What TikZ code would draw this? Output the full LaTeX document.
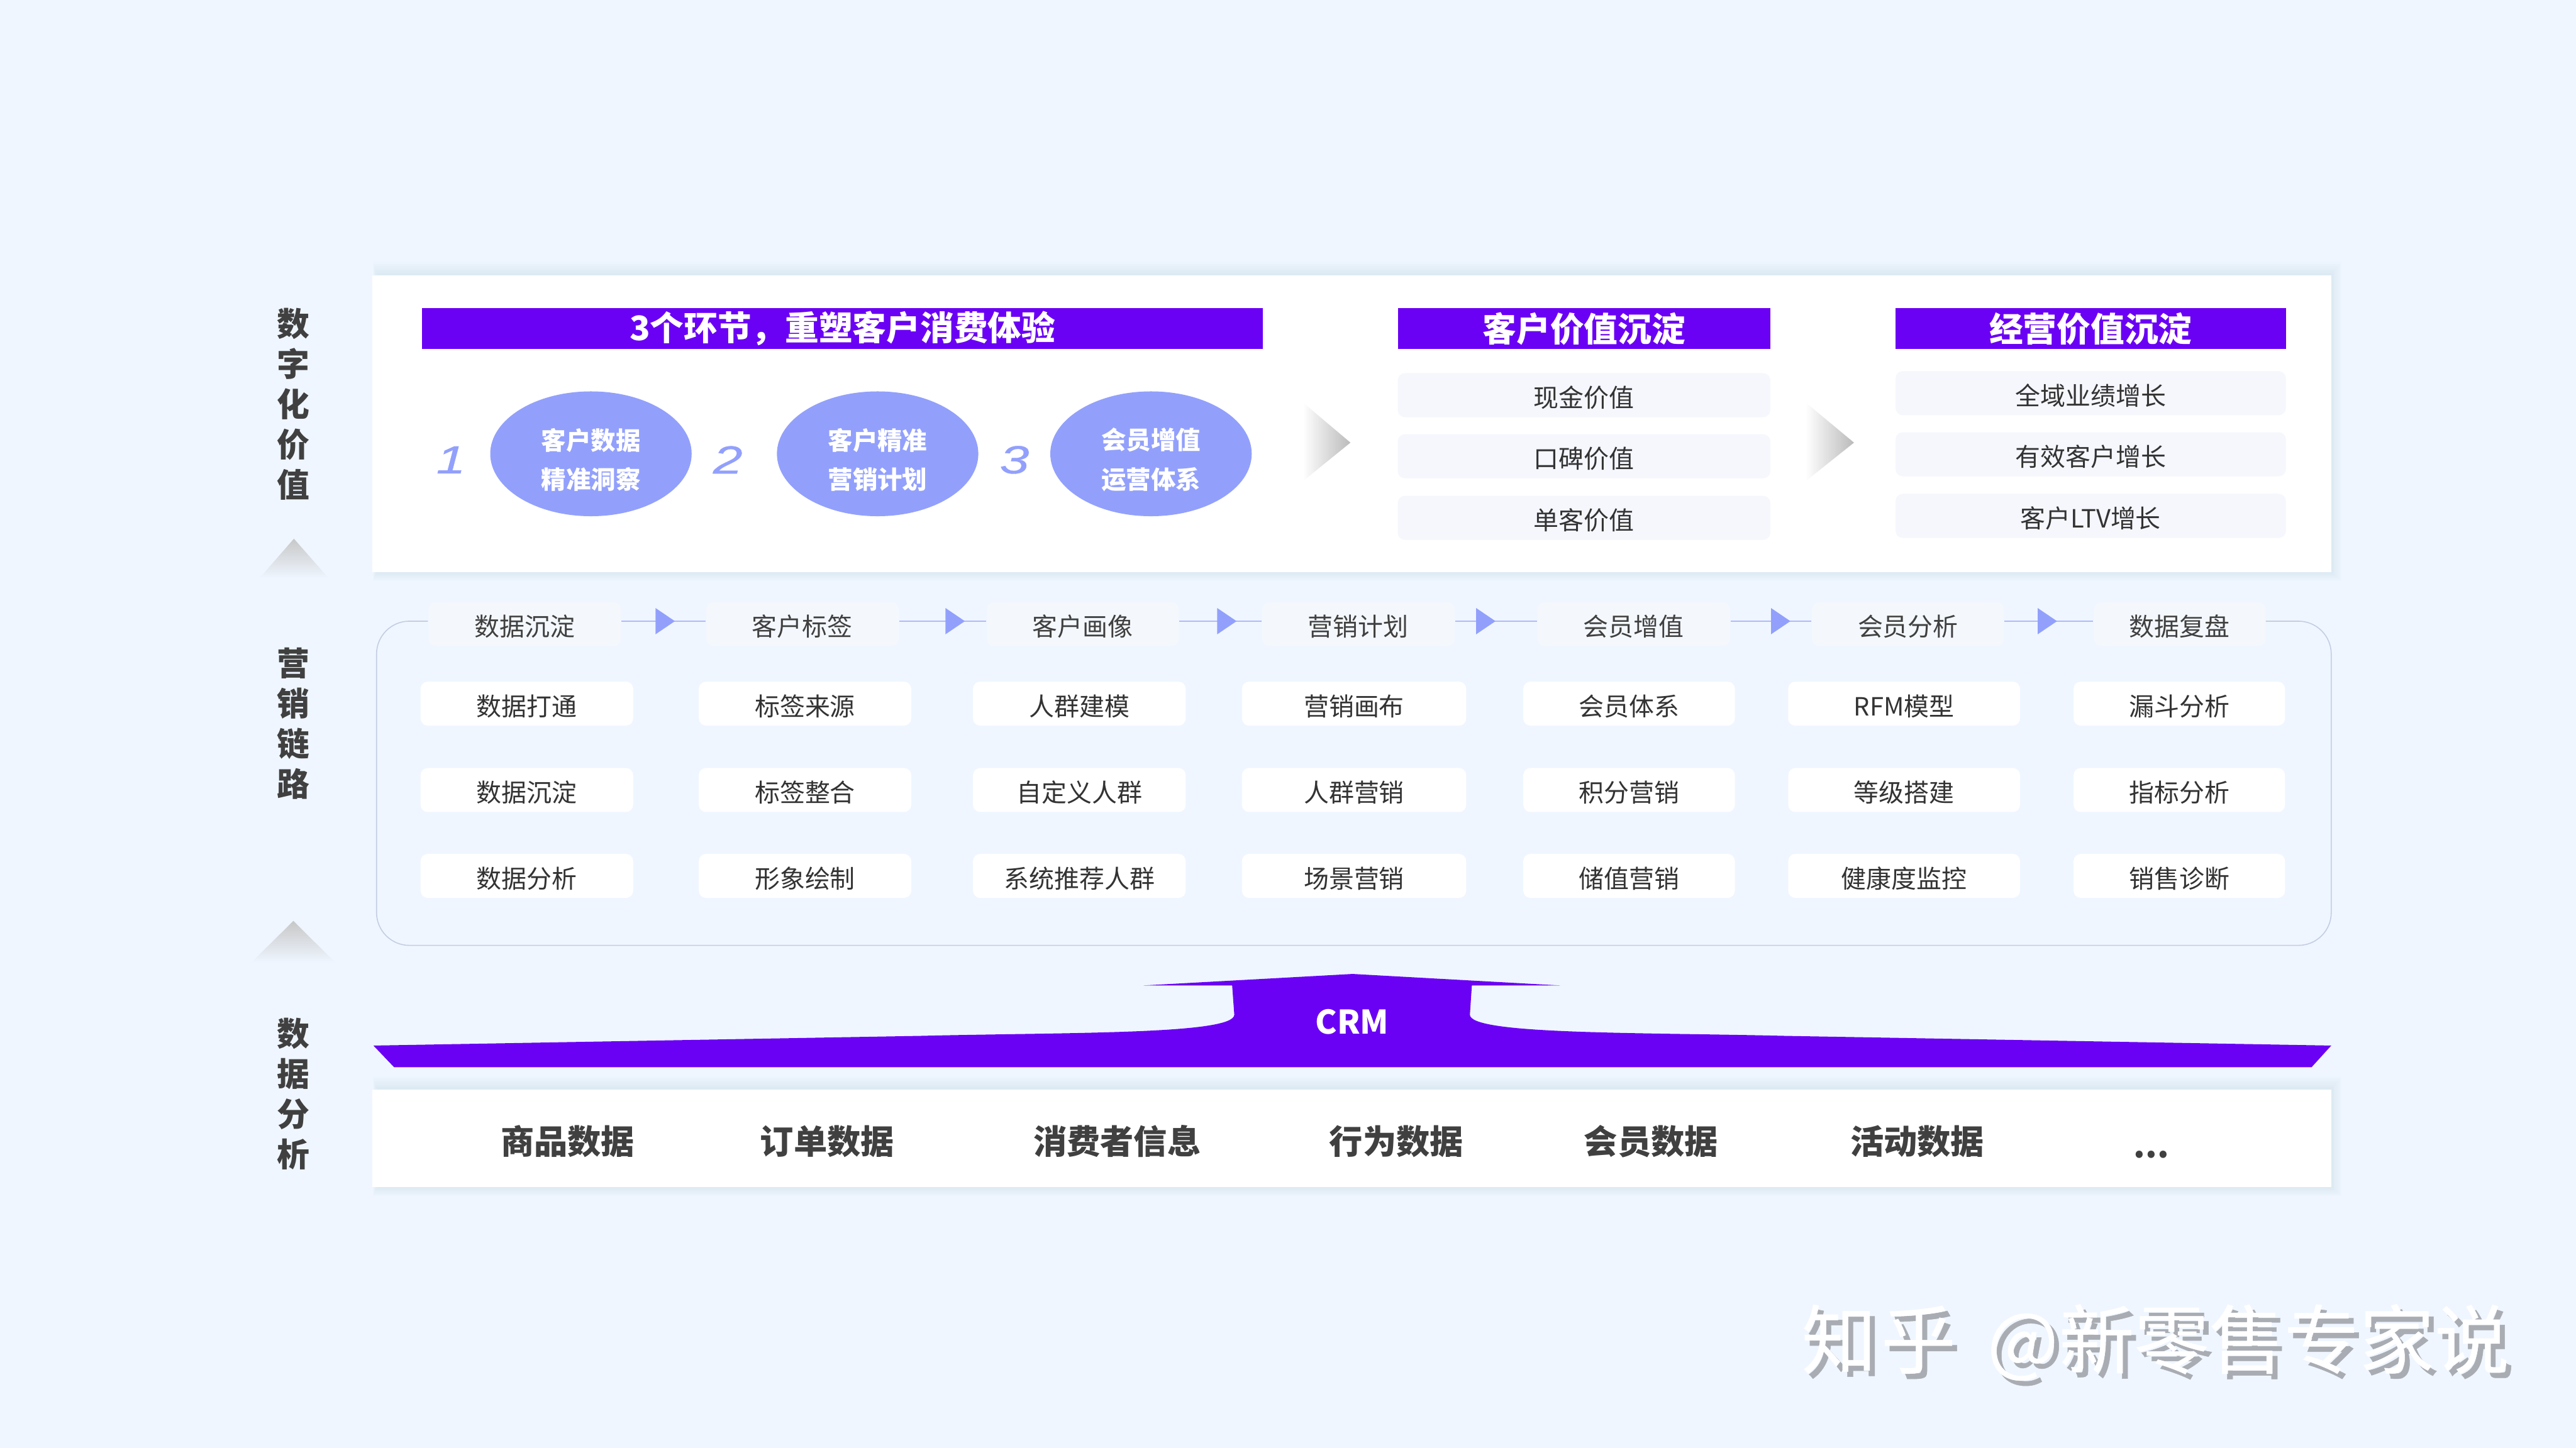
\documentclass[tikz,border=0pt]{standalone}
\usepackage{fontspec}
\usepackage{tikz}
\usetikzlibrary{shapes.geometric}
\setmainfont{Noto Sans CJK SC}
\newfontfamily\numfont[FakeStretch=1.35,FakeBold=0.6]{Liberation Sans}
\newfontfamily\markfont[FakeBold=0.4]{Noto Sans CJK SC}
\definecolor{MyBack}{RGB}{239,246,255}
\definecolor{MyPurple}{RGB}{106,0,244}
\definecolor{MyBlue}{RGB}{146,160,252}
\definecolor{MyPale}{RGB}{245,247,253}
\definecolor{MyTop}{RGB}{244,248,253}
\definecolor{MyFrame}{RGB}{196,206,226}
\definecolor{MyInk}{RGB}{51,51,51}
\definecolor{MyInkB}{RGB}{64,64,64}
\definecolor{MyShadow}{RGB}{90,120,170}
\definecolor{MyMark}{RGB}{169,173,179}
\def\px{0.02cm}
\newcommand{\ovaltext}[2]{\rule{0pt}{11.6pt}#1\\#2}
\tikzset{
    headbar/.style={
      rectangle,
      fill=MyPurple,
      text=white,
      inner sep=0pt,
      minimum height=24.9*\px,
      font=\fontsize{11.7}{13}\selectfont\bfseries
    },
    stepoval/.style={
      ellipse,
      fill=MyBlue,
      text=white,
      inner sep=0pt,
      minimum width=122.6*\px,
      minimum height=76*\px,
      align=center,
      font=\fontsize{8.6}{13.6}\selectfont\bfseries
    },
    stepnum/.style={
      text=MyBlue,
      inner sep=0pt,
      font=\fontsize{13.6}{14}\selectfont\numfont\itshape
    },
    valbox/.style={
      rectangle,
      rounded corners=2.5pt,
      fill=MyPale,
      text=MyInk,
      inner sep=0pt,
      minimum height=26.8*\px,
      text height=9.4pt,
      text depth=1pt,
      font=\fontsize{8.7}{10}\selectfont
    },
    cellbox/.style={valbox,fill=white},
    topbox/.style={valbox,fill=MyTop,text=MyInkB},
    sidelabel/.style={
      text=MyInkB,
      inner sep=0pt,
      align=center,
      font=\fontsize{11.3}{13.93}\selectfont\bfseries
    },
    datatext/.style={
      text=MyInkB,
      inner sep=0pt,
      font=\fontsize{11.6}{13}\selectfont\bfseries
    },
    markname/.style={
      inner sep=0pt,
      font=\fontsize{26}{30}\selectfont\markfont
    },
    flowline/.style={draw=MyBlue!70!MyBack,line width=0.35pt},
    frameline/.style={draw=MyFrame,line width=0.35pt,rounded corners=20*\px},
    fadetip/.style={left color=white,middle color=black!5,right color=black!27},
}
% soft shadow behind a white panel
\newcommand{\panelshadow}[4]{
  \foreach \t in {0.15,0.3,...,1.0} {
    \fill[MyShadow,opacity=0.014] (#1+3-\t*3,#2-\t*9) rectangle (#3+\t*7,#4+\t*6);
  }
}
\begin{document}
\begin{tikzpicture}[x=0.02cm,y=-0.02cm]
    \useasboundingbox (0,0) rectangle (1568,881.6);
    \fill[MyBack] (0,0) rectangle (1568,881.6);

    % side labels
    \node[sidelabel] at (178.6,246) (sideA) {数\\字\\化\\价\\值};
    \node[sidelabel] at (178.6,440.5) (sideB) {营\\销\\链\\路};
    \node[sidelabel] at (178.6,666) (sideC) {数\\据\\分\\析};
    \shade[top color=black!22,bottom color=MyBack] (178.9,328) -- (200,352) -- (158,352) -- cycle;
    \shade[top color=black!22,bottom color=MyBack] (178.6,560.7) -- (204,586) -- (153,586) -- cycle;

    % value panel
    \panelshadow{226.6}{167.5}{1419}{348.3}
    \fill[white] (226.6,167.5) rectangle (1419,348.3);
    \node[headbar,minimum width=511.6*\px] at (512.8,200.1) (headA) {3个环节，重塑客户消费体验};
    \node[headbar,minimum width=226.8*\px] at (964.2,200.1) (headB) {客户价值沉淀};
    \node[headbar,minimum width=237.6*\px] at (1272.6,200.1) (headC) {经营价值沉淀};

    \node[stepnum] at (274.5,280) (numA) {1};
    \node[stepoval] at (359.7,276.3) (ovalA) {\ovaltext{客户数据}{精准洞察}};
    \node[stepnum] at (443,280) (numB) {2};
    \node[stepoval] at (534.2,276.3) (ovalB) {\ovaltext{客户精准}{营销计划}};
    \node[stepnum] at (617.5,280) (numC) {3};
    \node[stepoval] at (700.6,276.3) (ovalC) {\ovaltext{会员增值}{运营体系}};

    \shade[fadetip] (793,245) -- (822,269.5) -- (793,293) -- cycle;
    \shade[fadetip] (1099,245) -- (1128.5,269.5) -- (1099,293) -- cycle;

    \foreach \y/\t [count=\i] in {240.6/现金价值,277.8/口碑价值,315.3/单客价值} {
      \node[valbox,minimum width=226.8*\px] at (964.2,\y) (valB\i) {\t};
    }
    \foreach \y/\t [count=\i] in {239.4/全域业绩增长,276.6/有效客户增长,314.1/客户LTV增长} {
      \node[valbox,minimum width=237.6*\px] at (1272.6,\y) (valC\i) {\t};
    }

    % link frame and the steps on its upper edge
    \coordinate (frameL) at (229.2,575.6);
    \coordinate (frameR) at (1419,575.6);
    \foreach \x/\w/\t [count=\i] in {319.4/117.2/数据沉淀,488.4/117.2/客户标签,659.1/116.8/客户画像,
        826.8/117.1/营销计划,994.4/117.1/会员增值,1161.4/116.8/会员分析,1326.7/104.4/数据复盘} {
      \node[topbox,minimum width=\w*\px] at (\x,380) (top\i) {\t};
    }
    \draw[frameline] ([yshift=0.036cm]top1.west) -| (frameL) -- (frameR) |- ([yshift=0.036cm]top7.east);
    \foreach \i/\j in {1/2,2/3,3/4,4/5,5/6,6/7} {
      \draw[flowline] ([yshift=0.036cm]top\i.east) -- ([yshift=0.036cm]top\j.west);
    }
    \foreach \x in {399,575.5,740.9,898.5,1078,1240.3} {
      \fill[MyBlue] (\x,370.2) -- (\x+11.8,378.2) -- (\x,386.2) -- cycle;
    }
    \foreach \x/\w/\a/\b/\c [count=\i] in {
        320.7/129.4/数据打通/数据沉淀/数据分析,
        490/129.3/标签来源/标签整合/形象绘制,
        657/129.5/人群建模/自定义人群/系统推荐人群,
        824.2/136.5/营销画布/人群营销/场景营销,
        991.6/128.8/会员体系/积分营销/储值营销,
        1159/141.1/RFM模型/等级搭建/健康度监控,
        1326.5/128.7/漏斗分析/指标分析/销售诊断} {
      \node[cellbox,minimum width=\w*\px] at (\x,428.4) (cellA\i) {\a};
      \node[cellbox,minimum width=\w*\px] at (\x,481) (cellB\i) {\b};
      \node[cellbox,minimum width=\w*\px] at (\x,533.3) (cellC\i) {\c};
    }

    % crm arrow
    \fill[MyPurple] (227.3,636.6) -- (560,630.7) .. controls (650,628.5) and (751.3,630) .. (751.3,617.8)
      -- (750,600) -- (696,600) -- (823.3,593) -- (949.7,600) -- (895.9,600) -- (894.7,617.8)
      .. controls (894.7,630) and (996.6,628.5) .. (1086.6,630.7) -- (1419,636.6) -- (1407,649.8) -- (239.9,649.8) -- cycle;
    \node[inner sep=0pt,text=white,font=\fontsize{11.3}{13}\selectfont\bfseries] at (823,622) (crm) {CRM};

    % data panel
    \panelshadow{226.6}{663.3}{1419}{722.8}
    \fill[white] (226.6,663.3) rectangle (1419,722.8);
    \foreach \x/\t [count=\i] in {345.5/商品数据,503.5/订单数据,680/消费者信息,850/行为数据,1005/会员数据,1167/活动数据} {
      \node[datatext] at (\x,695) (data\i) {\t};
    }
    \node[datatext] at (1309.5,703) (data7) {...};

    % mark
    \node[markname,text=MyMark] at (1315,820.5) (markB) {知\hspace{1.5pt}乎\hspace{5pt} @\hspace{0.3pt}新零售专家说};
    \node[markname,text=white] at (1312,817.3) (markA) {知\hspace{1.5pt}乎\hspace{5pt} @\hspace{0.3pt}新零售专家说};
  \end{tikzpicture}
\end{document}
